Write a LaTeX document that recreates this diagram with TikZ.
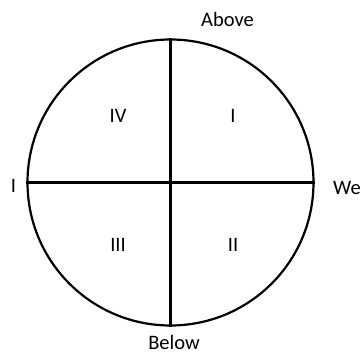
\documentclass[tikz,border=0pt]{standalone}
\usepackage{fontspec}
\setmainfont{Carlito}
\usepackage{tikz}

\begin{document}
\begin{tikzpicture}[
  x=1pt, y=-1pt,
  wheel/.style={draw, circle, line width=2.2pt, minimum size=286pt, inner sep=0pt},
  axis/.style={line width=2.2pt},
  lbl/.style={font=\fontsize{20.5}{24}\selectfont, inner sep=0pt, anchor=base}
]
\useasboundingbox (0,0) rectangle (362,355);
\node[wheel] (c) at (170.5,182.5) {};
\draw[axis] (c.north) -- (c.south);
\draw[axis] (c.west) -- (c.east);
\node[lbl] (above) at (227.5,27) {Above};
\node[lbl] (below) at (174,350) {Below};
\node[lbl] (left) at (13.5,192.5) {I};
\node[lbl] (right) at (347,195) {We};
\node[lbl] (q4) at (118,122.5) {IV};
\node[lbl] (q1) at (233,122.5) {I};
\node[lbl] (q3) at (118,251.5) {III};
\node[lbl] (q2) at (233,251.5) {II};
\end{tikzpicture}
\end{document}
